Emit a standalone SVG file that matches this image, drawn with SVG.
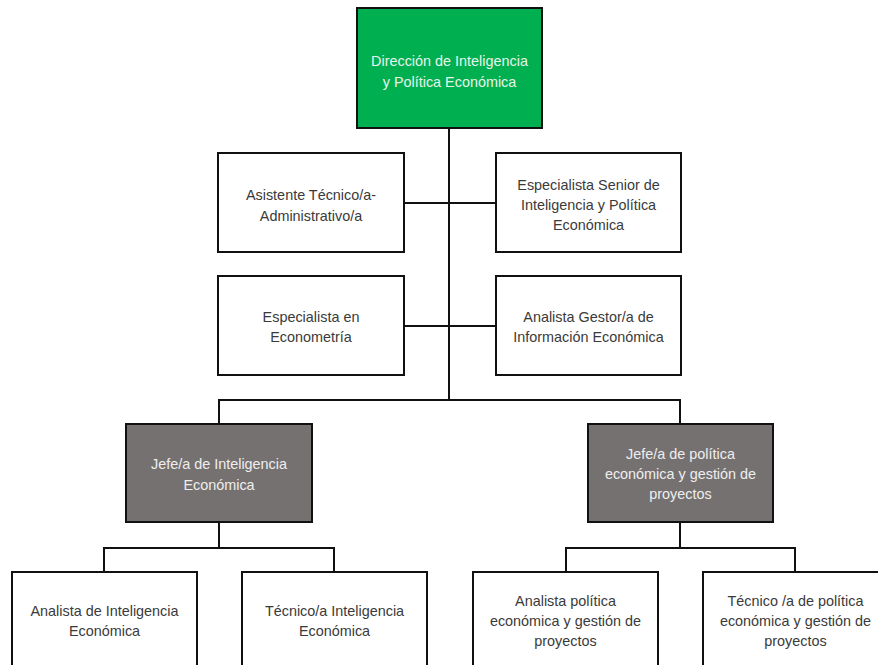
<svg xmlns="http://www.w3.org/2000/svg" width="878" height="665" viewBox="0 0 878 665">
  <style>
    .box { stroke: #111; stroke-width: 2; }
    .w { fill: #ffffff; }
    .g { fill: #00b050; }
    .d { fill: #767171; }
    text { font-family: "Liberation Sans", Arial, sans-serif; font-size: 14.4px; text-anchor: middle; dominant-baseline: central; }
    .tw { fill: #3a3a3a; }
    .tl { fill: #e8f4ea; }
    .tg { fill: #eeeeee; }
    .conn { stroke: #111; stroke-width: 2; fill: none; }
  </style>
  <rect width="878" height="665" fill="#ffffff"/>
  <g id="connectors">
    <path class="conn" d="M449,128 V400"/>
    <path class="conn" d="M404,203 H496"/>
    <path class="conn" d="M404,326 H496"/>
    <path class="conn" d="M219,424 V400 H680 V424"/>
    <path class="conn" d="M219,522 V548"/>
    <path class="conn" d="M104,572 V548 H334 V572"/>
    <path class="conn" d="M680,522 V548"/>
    <path class="conn" d="M566,572 V548 H795 V572"/>
  </g>
  <g id="n-direccion">
    <rect class="box g" x="357" y="8" width="185" height="120"/>
    <text class="tl" x="449.5" y="60.5">Dirección de Inteligencia</text>
    <text class="tl" x="449.5" y="81.5">y Política Económica</text>
  </g>
  <g id="n-asistente">
    <rect class="box w" x="218" y="153" width="186" height="99"/>
    <text class="tw" x="311" y="195">Asistente Técnico/a-</text>
    <text class="tw" x="311" y="216">Administrativo/a</text>
  </g>
  <g id="n-especialista-senior">
    <rect class="box w" x="496" y="153" width="185" height="99"/>
    <text class="tw" x="588.5" y="185">Especialista Senior de</text>
    <text class="tw" x="588.5" y="205">Inteligencia y Política</text>
    <text class="tw" x="588.5" y="225">Económica</text>
  </g>
  <g id="n-econometria">
    <rect class="box w" x="218" y="276" width="186" height="99"/>
    <text class="tw" x="311" y="317">Especialista en</text>
    <text class="tw" x="311" y="337">Econometría</text>
  </g>
  <g id="n-analista-gestor">
    <rect class="box w" x="496" y="276" width="185" height="99"/>
    <text class="tw" x="588.5" y="317">Analista Gestor/a de</text>
    <text class="tw" x="588.5" y="337">Información Económica</text>
  </g>
  <g id="n-jefe-inteligencia">
    <rect class="box d" x="126" y="424" width="186" height="98"/>
    <text class="tg" x="219" y="464">Jefe/a de Inteligencia</text>
    <text class="tg" x="219" y="485">Económica</text>
  </g>
  <g id="n-jefe-politica">
    <rect class="box d" x="588" y="424" width="185" height="98"/>
    <text class="tg" x="680.5" y="454">Jefe/a de política</text>
    <text class="tg" x="680.5" y="474">económica y gestión de</text>
    <text class="tg" x="680.5" y="494">proyectos</text>
  </g>
  <g id="n-analista-inteligencia">
    <rect class="box w" x="12" y="572" width="185" height="100"/>
    <text class="tw" x="104.5" y="611">Analista de Inteligencia</text>
    <text class="tw" x="104.5" y="631">Económica</text>
  </g>
  <g id="n-tecnico-inteligencia">
    <rect class="box w" x="242" y="572" width="185" height="100"/>
    <text class="tw" x="334.5" y="611">Técnico/a Inteligencia</text>
    <text class="tw" x="334.5" y="631">Económica</text>
  </g>
  <g id="n-analista-politica">
    <rect class="box w" x="473" y="572" width="185" height="100"/>
    <text class="tw" x="565.5" y="601">Analista política</text>
    <text class="tw" x="565.5" y="621">económica y gestión de</text>
    <text class="tw" x="565.5" y="641">proyectos</text>
  </g>
  <g id="n-tecnico-politica">
    <rect class="box w" x="703" y="572" width="185" height="100"/>
    <text class="tw" x="795.5" y="601">Técnico /a de política</text>
    <text class="tw" x="795.5" y="621">económica y gestión de</text>
    <text class="tw" x="795.5" y="641">proyectos</text>
  </g>
</svg>
